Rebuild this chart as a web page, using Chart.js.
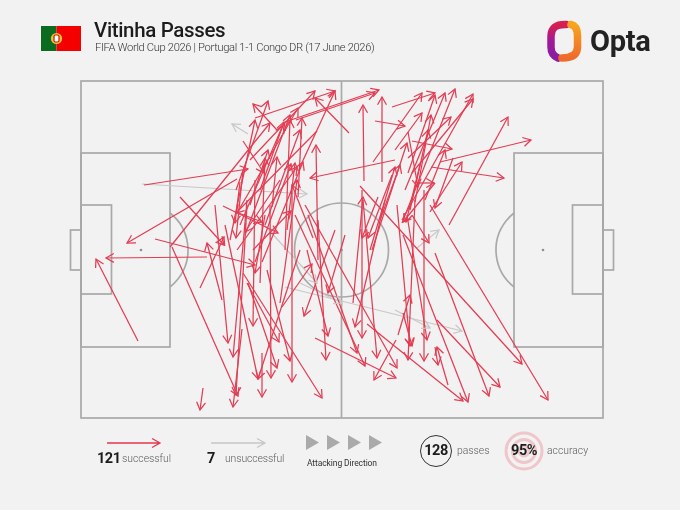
<!DOCTYPE html>
<html>
<head>
<meta charset="utf-8">
<title>Vitinha Passes</title>
<script src="https://cdn.jsdelivr.net/npm/chart.js@4"></script>
<style>
  html, body { margin: 0; padding: 0; background: #f2f2f2; }
  #page { position: relative; width: 680px; height: 510px; overflow: hidden; font-family: Roboto, sans-serif; color: #1c1c1c; }
  #page canvas { position: absolute; left: 0; top: 0; }
  #page svg { position: absolute; left: 0; top: 0; }
  .t { position: absolute; white-space: nowrap; line-height: 1; }
  .num { font-weight: 700; font-size: 14.5px; letter-spacing: -0.5px; }
  .lbl { font-size: 10.4px; font-weight: 300; color: #5c5c5c; }
</style>
</head>
<body>
<div id="page">
  <canvas id="pitch" width="680" height="510"></canvas>
  <svg width="680" height="510">
    <defs>
      <linearGradient id="optaL" x1="0" y1="0" x2="0" y2="1">
        <stop offset="0" stop-color="#d8204f"/><stop offset="0.5" stop-color="#a0189a"/><stop offset="1" stop-color="#8a1fa0"/>
      </linearGradient>
      <linearGradient id="optaR" x1="0" y1="0" x2="0" y2="1">
        <stop offset="0" stop-color="#f7a51e"/><stop offset="1" stop-color="#ef6a2c"/>
      </linearGradient>
    </defs>
    <!-- flag -->
    <rect x="41" y="26" width="15.5" height="25" fill="#0b6b1f"/>
    <rect x="56.5" y="26" width="24.5" height="25" fill="#f40000"/>
    <circle cx="56.5" cy="38.5" r="5.6" fill="#e8c63a"/>
    <rect x="54" y="35" width="5" height="7" rx="1.5" fill="#fff" stroke="#d01010" stroke-width="1.2"/>
    <!-- opta mark -->
    <path d="M566 24.5 Q551 24 551 36 V47 Q551 55 558 58" fill="none" stroke="url(#optaL)" stroke-width="7.5" stroke-linecap="round"/>
    <path d="M571 24.5 Q577.5 26 577.5 36 V47 Q577.5 58 562 58" fill="none" stroke="url(#optaR)" stroke-width="7.5" stroke-linecap="round"/>
    <!-- legend arrows -->
    <path d="M107 443 H159 M152 438.5 L160 443 L152 447.5" fill="none" stroke="#e0384f" stroke-width="1.3"/>
    <path d="M211 443 H264 M257 438.5 L265 443 L257 447.5" fill="none" stroke="#c6c6c6" stroke-width="1.3"/>
    <!-- attacking direction -->
    <path d="M306 435 L319 442.5 L306 450 Z M327 435 L340 442.5 L327 450 Z M348 435 L361 442.5 L348 450 Z M369 435 L382 442.5 L369 450 Z" fill="#aaaaaa"/>
    <!-- summary badges -->
    <circle cx="436" cy="451" r="15.5" fill="none" stroke="#333" stroke-width="1"/>
    <circle cx="524" cy="451" r="18" fill="none" stroke="#efc6ca" stroke-width="3"/>
    <circle cx="524" cy="451" r="11.5" fill="none" stroke="#efc6ca" stroke-width="3"/>
    <circle cx="524" cy="451" r="5" fill="none" stroke="#efc6ca" stroke-width="3"/>
  </svg>
  <div class="t" style="left:94px;top:20px;font-size:20.5px;font-weight:500;letter-spacing:-0.35px;">Vitinha Passes</div>
  <div class="t" style="left:95px;top:42px;font-size:11.2px;font-weight:300;letter-spacing:-0.35px;color:#333;">FIFA World Cup 2026 | Portugal 1-1 Congo DR (17 June 2026)</div>
  <div class="t" style="left:590px;top:27px;font-size:29px;font-weight:700;letter-spacing:-0.3px;color:#222;">Opta</div>
  <div class="t num" style="left:97px;top:452px;">121</div>
  <div class="t lbl" style="left:122px;top:454px;">successful</div>
  <div class="t num" style="left:207px;top:452px;">7</div>
  <div class="t lbl" style="left:225px;top:454px;letter-spacing:-0.1px;">unsuccessful</div>
  <div class="t" style="left:307px;top:459px;font-size:8.5px;letter-spacing:-0.1px;color:#333;">Attacking Direction</div>
  <div class="t num" style="left:436px;top:444px;transform:translateX(-50%);">128</div>
  <div class="t lbl" style="left:457px;top:446px;">passes</div>
  <div class="t num" style="left:524px;top:444px;transform:translateX(-50%);">95%</div>
  <div class="t lbl" style="left:547px;top:446px;">accuracy</div>
</div>
<script>
// pitch units, origin at the top left corner of the pitch, [fromX, fromY, toX, toY]
const successfulPasses = [
  [63,104,167,88], [156,98,46,162], [99,116,143,164], [74,158,174,184], [126,176,25,177],
  [57,260,15,178], [122,307,119,329], [161,248,152,326], [91,166,157,315], [89,166,189,42],
  [174,37,254,10], [169,79,234,10], [155,109,187,20], [196,49,172,23], [156,132,217,27],
  [268,52,234,17], [219,86,254,10], [204,41,298,9], [215,39,294,12], [179,109,203,41],
  [217,116,221,37], [237,179,235,64], [236,50,155,132], [314,79,229,97], [162,60,183,92],
  [169,124,187,69], [191,126,196,76], [206,149,214,82], [232,157,211,104], [199,222,216,99],
  [119,207,143,156], [141,219,126,162], [142,125,197,152], [155,131,181,141], [172,169,210,130],
  [159,101,154,142], [162,89,155,157], [199,99,164,151], [134,124,147,262], [166,119,152,276],
  [144,144,177,298], [181,272,181,316], [219,169,177,298], [189,124,190,297], [211,109,211,301],
  [162,192,241,317], [167,202,196,287], [166,202,198,261], [186,189,209,280], [174,99,172,245],
  [179,202,184,77], [201,226,231,183], [254,149,223,235], [226,169,247,255], [237,139,245,279],
  [264,154,247,212], [184,134,174,192], [166,124,155,314], [156,169,216,86], [181,181,222,81],
  [174,181,210,83], [164,154,209,34], [159,144,202,44], [184,144,219,49], [204,169,209,39],
  [149,159,174,39], [301,101,301,16], [283,100,282,24], [292,81,341,12], [311,26,354,12],
  [321,142,374,8], [324,109,364,12], [327,92,354,14], [321,139,392,13], [331,92,392,18],
  [314,69,341,32], [334,121,350,34], [327,77,370,36], [368,144,427,36], [359,81,450,59],
  [331,60,371,68], [294,40,324,45], [350,86,423,97], [349,131,381,81], [372,77,354,127],
  [327,51,337,106], [336,102,353,102], [354,102,322,141], [331,134,348,162], [272,222,282,116],
  [297,116,281,157], [289,169,314,86], [291,169,326,62], [279,105,441,283], [349,124,467,319],
  [354,172,408,315], [356,239,419,306], [322,154,387,321], [286,243,382,320], [234,257,315,297],
  [315,259,293,299], [227,134,276,272], [214,134,284,285], [282,119,296,277], [224,124,316,287],
  [281,109,281,257], [304,119,274,246], [316,124,329,265], [334,119,327,279], [343,109,343,280],
  [326,134,346,259], [317,254,329,214], [322,232,331,265], [367,304,356,266], [354,266,357,284],
  [311,94,287,157], [339,84,325,141], [344,119,364,69], [299,139,319,84], [329,129,347,49]
];
const unsuccessfulPasses = [
  [167,53,151,43], [61,103,226,113], [177,137,236,202], [204,206,381,250],
  [336,167,358,149], [219,202,261,222], [314,229,349,247]
];
const pitchWidth = 522;
const pitchHeight = 337;
const halfway = 260.5;
const boxDepth = 89;
const boxTop = 72;
const boxBottom = 266;
const sixDepth = 30.5;
const sixTop = 124;
const sixBottom = 213;
const goalDepth = 10.5;
const goalTop = 149;
const goalBottom = 189;
const spotDepth = 60;
const centreY = 169;
const circleRadius = 47;

const RED = "#e33d53";
const GREY = "#c8c8c8";
const LINE = "#a9a9a9";

function passDataset(p, colour) {
  return {
    data: [{ x: p[0], y: p[1] }, { x: p[2], y: p[3] }],
    showLine: true,
    borderColor: colour,
    borderWidth: 1.25,
    pointRadius: 0,
    pointHoverRadius: 0
  };
}

// pitch markings, drawn under the passes
const pitchPlugin = {
  id: "pitchLines",
  beforeDatasetsDraw(chart) {
    const c = chart.ctx;
    const sx = chart.scales.x;
    const sy = chart.scales.y;
    const X = v => sx.getPixelForValue(v);
    const Y = v => sy.getPixelForValue(v);
    const box = (x0, y0, x1, y1) => c.strokeRect(X(x0), Y(y0), X(x1) - X(x0), Y(y1) - Y(y0));
    const r = X(circleRadius) - X(0);
    c.save();
    c.strokeStyle = LINE;
    c.fillStyle = "#8f8f8f";
    c.lineWidth = 1.7;
    box(0, 0, pitchWidth, pitchHeight);
    c.beginPath();
    c.moveTo(X(halfway), Y(0));
    c.lineTo(X(halfway), Y(pitchHeight));
    c.stroke();
    box(0, boxTop, boxDepth, boxBottom);
    box(0, sixTop, sixDepth, sixBottom);
    box(-goalDepth, goalTop, 0, goalBottom);
    box(pitchWidth - boxDepth, boxTop, pitchWidth, boxBottom);
    box(pitchWidth - sixDepth, sixTop, pitchWidth, sixBottom);
    box(pitchWidth, goalTop, pitchWidth + goalDepth, goalBottom);
    c.beginPath();
    c.arc(X(halfway), Y(centreY), r, 0, Math.PI * 2);
    c.stroke();
    // penalty arcs, only the part outside the box
    const a = Math.acos((boxDepth - spotDepth) / circleRadius);
    c.beginPath();
    c.arc(X(spotDepth), Y(centreY), r, -a, a);
    c.stroke();
    c.beginPath();
    c.arc(X(pitchWidth - spotDepth), Y(centreY), r, Math.PI - a, Math.PI + a);
    c.stroke();
    [spotDepth, halfway, pitchWidth - spotDepth].forEach(v => {
      c.beginPath();
      c.arc(X(v), Y(centreY), 1.3, 0, Math.PI * 2);
      c.fill();
    });
    c.restore();
  }
};

// open arrow heads at the end of every pass
const headPlugin = {
  id: "arrowHeads",
  afterDatasetsDraw(chart) {
    const c = chart.ctx;
    c.save();
    c.lineWidth = 1.25;
    for (let i = chart.data.datasets.length - 1; i >= 0; i--) {
      const pts = chart.getDatasetMeta(i).data;
      const a = Math.atan2(pts[1].y - pts[0].y, pts[1].x - pts[0].x);
      const len = 9;
      const wing = 0.52;
      c.strokeStyle = chart.data.datasets[i].borderColor;
      c.beginPath();
      c.moveTo(pts[1].x - len * Math.cos(a - wing), pts[1].y - len * Math.sin(a - wing));
      c.lineTo(pts[1].x, pts[1].y);
      c.lineTo(pts[1].x - len * Math.cos(a + wing), pts[1].y - len * Math.sin(a + wing));
      c.stroke();
    }
    c.restore();
  }
};

new Chart(document.getElementById("pitch"), {
  type: "scatter",
  data: {
    datasets: successfulPasses.map(p => passDataset(p, RED))
      .concat(unsuccessfulPasses.map(p => passDataset(p, GREY)))
  },
  options: {
    responsive: false,
    animation: false,
    layout: { padding: { left: 81, right: 77, top: 81, bottom: 92 } },
    plugins: { legend: { display: false }, tooltip: { enabled: false } },
    scales: {
      x: { type: "linear", min: 0, max: pitchWidth, display: false },
      y: { type: "linear", min: 0, max: pitchHeight, reverse: true, display: false }
    }
  },
  plugins: [pitchPlugin, headPlugin]
});
</script>
</body>
</html>
